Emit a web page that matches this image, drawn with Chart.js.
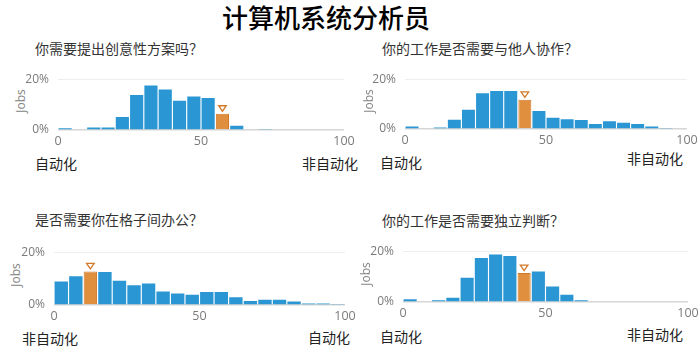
<!DOCTYPE html>
<html lang="zh-CN"><head><meta charset="utf-8">
<script src="https://cdn.jsdelivr.net/npm/chart.js@4/dist/chart.umd.min.js"></script>
<style>
body{margin:0;background:#fff;}
#page{position:relative;width:700px;height:350px;overflow:hidden;font-family:"Noto Sans CJK SC","Noto Sans",sans-serif;}
.t{position:absolute;white-space:nowrap;line-height:1;transform:translateY(-50%);}
canvas{position:absolute;}
</style></head><body><div id="page"></div>
<script>
// ---- data ----
const mainTitle = "计算机系统分析员";
const questions = ["你需要提出创意性方案吗？","你的工作是否需要与他人协作？","是否需要你在格子间办公？","你的工作是否需要独立判断？"];
const leftLabels = ["自动化","自动化","非自动化","自动化"];
const rightLabels = ["非自动化","非自动化","自动化","非自动化"];
const binStarts = [0,5,10,15,20,25,30,35,40,45,50,55,60,65,70,75,80,85,90,95];
const xTickValues = [0,50,100];
const yTickValues = [0,20];
const creativeValues    = [0.7,0,1.0,1.0,5.1,13.8,17.5,15.9,11.5,13.2,12.6,6.4,1.7,0,0.4,0,0,0,0,0];
const collaborateValues = [1.0,0,0.6,3.7,7.7,14.4,15.3,15.3,11.7,7.2,4.5,3.9,3.6,2.0,3.1,2.5,2.0,1.0,0.4,0];
const cubicleValues     = [8.9,10.9,12.7,12.5,9.2,7.5,8.1,5.1,4.4,3.9,4.9,4.9,2.9,1.5,2.0,2.0,1.3,0.6,0.6,0.2];
const judgmentValues    = [1.1,0,0.7,1.7,9.5,17.3,18.7,18.1,11.4,12.0,6.1,2.9,0.7,0,0,0,0,0,0,0];
const highlightBins = [11,8,2,8];

// ---- layout (positions / styles only) ----
const BLUE = "#2a97d4", ORANGE = "#e08f3e", ORANGE_DARK = "#d27a28";
const panels = [
  {values: creativeValues,    area:{l:57.7,r:343.3,t:74.7,b:129.7},
   q:{x:35,y:47.5}, left:{x:35,y:162.5}, right:{x:302,y:163}, jobs:{x:21,y:101}},
  {values: collaborateValues, area:{l:405,r:687.3,t:75.3,b:129.7},
   q:{x:382,y:48}, left:{x:380,y:162}, right:{x:627,y:157.5}, jobs:{x:369,y:101}},
  {values: cubicleValues,     area:{l:53.7,r:345,t:247.7,b:304.7},
   q:{x:35,y:219}, left:{x:22,y:337.5}, right:{x:308,y:337}, jobs:{x:16,y:275}},
  {values: judgmentValues,    area:{l:402.7,r:687.3,t:246.7,b:301.7},
   q:{x:382,y:220}, left:{x:380,y:335.5}, right:{x:627,y:334}, jobs:{x:366,y:274}}
];

const page = document.getElementById('page');
function addText(str, x, y, size, color, extra){
  const d = document.createElement('div');
  d.className = 't'; d.textContent = str;
  d.style.left = x+'px'; d.style.top = y+'px';
  d.style.fontSize = size+'px'; d.style.color = color;
  if (extra) Object.assign(d.style, extra);
  page.appendChild(d); return d;
}
// main title
addText(mainTitle, 222, 17, 26, "#000", {fontWeight:"500"});

const markerPlugin = {
  id:'marker',
  afterDatasetsDraw(chart, args, opts){
    const el = chart.getDatasetMeta(0).data[opts.index];
    if(!el) return;
    const c = chart.ctx;
    const cx = el.x, base = el.y - 2.5;
    c.save();
    c.strokeStyle = ORANGE_DARK; c.lineWidth = 1.3;
    c.beginPath();
    c.moveTo(cx-3.8, base-5.5); c.lineTo(cx+3.8, base-5.5); c.lineTo(cx, base); c.closePath();
    c.stroke();
    c.restore();
  }
};

const YW = 50, PADT = 12, PADR = 22, XH = 24;
panels.forEach((p, i) => {
  addText(questions[i], p.q.x, p.q.y, 14, "#333");
  addText(leftLabels[i], p.left.x, p.left.y, 14, "#222");
  addText(rightLabels[i], p.right.x, p.right.y, 14, "#222");
  addText("Jobs", p.jobs.x, p.jobs.y, 12, "#858585",
    {fontFamily:"'Open Sans',sans-serif", transform:"translate(-50%,-50%) rotate(-90deg)"});

  const a = p.area;
  const cv = document.createElement('canvas');
  const cl = a.l - YW, ct = a.t - PADT;
  const cw = (a.r - a.l) + YW + PADR, ch = (a.b - a.t) + PADT + XH;
  cv.style.left = cl+'px'; cv.style.top = ct+'px';
  cv.width = Math.round(cw); cv.height = Math.round(ch);
  cv.style.width = Math.round(cw)+'px'; cv.style.height = Math.round(ch)+'px';
  page.appendChild(cv);

  const hl = highlightBins[i];
  new Chart(cv, {
    type:'bar',
    data:{
      labels: binStarts,
      datasets:[{
        data: p.values,
        backgroundColor: p.values.map((v,k)=> k===hl ? ORANGE : BLUE),
        borderColor: p.values.map((v,k)=> k===hl ? ORANGE_DARK : BLUE),
        borderWidth: p.values.map((v,k)=> k===hl ? 1 : 0),
        barPercentage: 0.92, categoryPercentage: 1
      }]
    },
    options:{
      responsive:false, animation:false, devicePixelRatio:1,
      layout:{padding:{left:0,top:PADT,right:PADR,bottom:0}, autoPadding:false},
      plugins:{legend:{display:false}, tooltip:{enabled:false}, marker:{index:hl}},
      scales:{
        x:{type:'category', display:false, offset:true},
        xt:{type:'linear', position:'bottom', min:0, max:100, offset:false,
            afterBuildTicks: s => { s.ticks = xTickValues.map(v=>({value:v})); },
            afterFit: s => { s.height = XH; },
            grid:{display:false, drawTicks:false, offset:false}, border:{display:false},
            ticks:{color:'#7a7a7a', padding:4, maxRotation:0, autoSkip:false,
                   font:{family:"'Open Sans',sans-serif", size:12.5}}},
        y:{min:0, max:20,
           afterBuildTicks: s => { s.ticks = yTickValues.map(v=>({value:v})); },
           afterFit: s => { s.width = YW; },
           border:{display:false},
           grid:{drawTicks:false,
                 color: c => c.tick && c.tick.value===0 ? '#d6d6d6' : '#eeeeee',
                 lineWidth: c => c.tick && c.tick.value===0 ? 1.6 : 1},
           ticks:{color:'#7a7a7a', padding:9, callback: v => v+'%',
                  font:{family:"'Open Sans',sans-serif", size:12}}}
      }
    },
    plugins:[markerPlugin]
  });
});
</script>
</body></html>
